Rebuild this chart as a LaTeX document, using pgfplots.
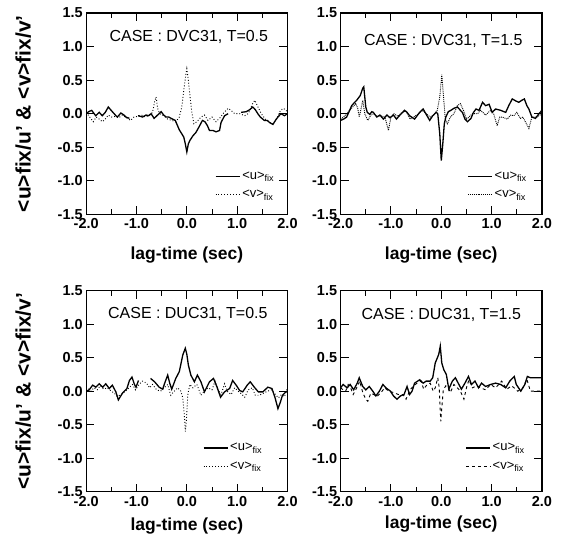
\documentclass[border=0pt]{standalone}
\usepackage{fontspec}
\setmainfont{Liberation Sans}
\usepackage{pgfplots}
\pgfplotsset{compat=1.18}
\usepgfplotslibrary{groupplots}

\pgfplotsset{
  lagplot/.style={
    scale only axis, width=201bp, height=201bp,
    xmin=-2, xmax=2, ymin=-1.5, ymax=1.5,
    xtick={-2,-1,0,1,2}, minor xtick={-1.5,-0.5,0.5,1.5},
    ytick={-1.5,-1,-0.5,0,0.5,1,1.5},
    tick align=inside,
    major tick length=8bp, minor tick length=5bp,
    tick style={black, line width=0.9bp},
    axis line style={line width=1.1bp},
    /pgf/number format/.cd, fixed, fixed zerofill, precision=1, assume math mode=true,
    /pgfplots/.cd,
    ticklabel style={font=\bfseries\fontsize{14.5}{16}\selectfont},
    xticklabel style={inner sep=4bp},
    label style={font=\bfseries\fontsize{17.5}{20}\selectfont},
    unbounded coords=jump,
    legend style={draw=none, fill=none, anchor=south east,
      font=\fontsize{13}{15}\selectfont, row sep=5bp, inner sep=1bp},
    legend cell align=left,
    legend image code/.code={\draw[##1] (0bp,0bp) -- (24bp,0bp);},
  },
  ucurve/.style={black, line width=1.3bp},
  vcurve/.style={black, line width=0.9bp},
}

\begin{document}
\begin{tikzpicture}
\begin{groupplot}[group style={group size=2 by 2, horizontal sep=53bp, vertical sep=76bp}, lagplot]

% top left
\nextgroupplot[
  xlabel={lag-time (sec)}, xlabel style={at={(axis description cs:0.5,-0.204)}, anchor=center},
  ylabel={<u>fix/u' \& <v>fix/v'},
  ylabel style={at={(axis description cs:-0.313,0.5)}, anchor=center, font=\bfseries\fontsize{21}{24}\selectfont},
  legend style={at={(axis description cs:0.95,0.06)}},
]
\addplot[ucurve] coordinates {
(-2.00,0.00) (-1.95,0.03) (-1.89,0.05) (-1.84,0.00) (-1.81,-0.03) (-1.74,0.02) (-1.68,-0.03) (-1.62,0.02) (-1.56,0.10) (-1.48,0.03) (-1.42,-0.02) (-1.38,-0.05) (-1.31,0.01) (-1.25,-0.02) (-1.21,-0.05) (-1.14,-0.07) (-1.10,nan) (-0.97,-0.03) (-0.92,-0.04) (-0.88,-0.05) (-0.81,-0.02) (-0.76,-0.03) (-0.71,0.00) (-0.65,-0.07) (-0.58,-0.02) (-0.51,0.03) (-0.46,-0.02) (-0.41,-0.05) (-0.36,-0.05) (-0.31,-0.07) (-0.23,-0.10) (-0.15,-0.24) (-0.10,-0.30) (-0.06,-0.35) (-0.03,-0.45) (0.00,-0.57) (0.03,-0.45) (0.06,-0.40) (0.12,-0.33) (0.18,-0.28) (0.24,-0.20) (0.31,-0.10) (0.36,-0.12) (0.41,-0.18) (0.45,-0.25) (0.52,-0.25) (0.58,-0.27) (0.65,-0.25) (0.68,-0.13) (0.75,-0.03) (0.82,0.00) (0.86,nan) (1.08,0.02) (1.18,0.03) (1.25,0.06) (1.31,0.10) (1.36,0.06) (1.41,0.00) (1.46,-0.05) (1.54,-0.10) (1.60,-0.10) (1.64,-0.13) (1.71,-0.16) (1.76,-0.10) (1.81,-0.05) (1.87,0.00) (1.94,-0.03) (2.00,0.00)
};
\addlegendentry{<u>\textsubscript{fix}}
\addplot[vcurve, dotted] coordinates {
(-2.00,0.02) (-1.95,-0.03) (-1.90,-0.08) (-1.86,-0.12) (-1.80,-0.05) (-1.74,-0.08) (-1.68,-0.12) (-1.62,-0.08) (-1.56,-0.02) (-1.50,-0.05) (-1.42,-0.04) (-1.35,-0.06) (-1.28,-0.02) (-1.20,-0.06) (-1.12,-0.10) (-1.05,-0.05) (-0.98,-0.04) (-0.90,-0.02) (-0.82,-0.05) (-0.74,-0.02) (-0.68,0.02) (-0.64,0.18) (-0.61,0.25) (-0.58,0.08) (-0.54,0.00) (-0.46,-0.03) (-0.38,-0.08) (-0.30,-0.10) (-0.22,-0.12) (-0.15,-0.05) (-0.10,0.10) (-0.06,0.35) (-0.02,0.58) (0.00,0.67) (0.03,0.50) (0.06,0.28) (0.10,0.02) (0.14,-0.15) (0.20,-0.12) (0.28,-0.05) (0.35,-0.02) (0.42,-0.10) (0.50,-0.05) (0.58,-0.12) (0.66,-0.06) (0.74,0.02) (0.82,0.08) (0.88,0.05) (0.95,0.00) (1.05,0.00) (1.15,-0.03) (1.22,0.00) (1.30,0.14) (1.35,0.20) (1.40,0.12) (1.48,0.00) (1.56,-0.08) (1.64,-0.13) (1.72,-0.15) (1.80,-0.05) (1.86,0.05) (1.92,0.08) (2.00,0.03)
};
\addlegendentry{<v>\textsubscript{fix}}
\node[font=\fontsize{16}{18}\selectfont] at (axis description cs:0.51,0.88) {CASE : DVC31, T=0.5};

% top right
\nextgroupplot[
  xlabel={lag-time (sec)}, xlabel style={at={(axis description cs:0.5,-0.204)}, anchor=center},
  legend style={at={(axis description cs:0.94,0.06)}},
]
\addplot[ucurve] coordinates {
(-2.00,-0.10) (-1.94,-0.08) (-1.88,-0.05) (-1.82,0.05) (-1.78,0.12) (-1.72,0.17) (-1.68,0.20) (-1.61,0.27) (-1.56,0.38) (-1.54,0.40) (-1.50,0.10) (-1.47,0.02) (-1.42,-0.01) (-1.38,0.03) (-1.35,0.02) (-1.28,-0.05) (-1.22,-0.02) (-1.15,-0.08) (-1.08,-0.02) (-1.02,-0.06) (-0.95,-0.02) (-0.89,-0.08) (-0.82,-0.02) (-0.73,0.05) (-0.68,0.02) (-0.63,-0.03) (-0.53,-0.08) (-0.43,0.02) (-0.36,0.07) (-0.30,-0.01) (-0.23,-0.10) (-0.17,-0.03) (-0.10,0.02) (-0.07,0.00) (-0.03,-0.30) (0.00,-0.70) (0.03,-0.45) (0.06,-0.15) (0.09,-0.05) (0.14,0.03) (0.19,0.05) (0.25,0.08) (0.32,0.10) (0.38,0.05) (0.42,0.02) (0.47,-0.08) (0.52,-0.12) (0.59,-0.07) (0.64,0.02) (0.69,0.07) (0.75,0.05) (0.82,0.17) (0.88,0.12) (0.95,0.14) (1.01,0.02) (1.08,0.07) (1.18,0.05) (1.28,0.02) (1.34,0.12) (1.41,0.22) (1.48,0.19) (1.54,0.17) (1.60,0.20) (1.65,0.22) (1.70,0.12) (1.74,0.07) (1.80,-0.05) (1.87,-0.07) (1.94,0.00) (2.00,0.05)
};
\addlegendentry{<u>\textsubscript{fix}}
\addplot[vcurve, densely dotted] coordinates {
(-2.00,-0.08) (-1.94,-0.05) (-1.88,0.00) (-1.82,0.05) (-1.76,0.10) (-1.70,0.15) (-1.66,0.08) (-1.63,-0.05) (-1.60,0.05) (-1.56,0.20) (-1.52,0.00) (-1.46,-0.10) (-1.40,-0.02) (-1.34,0.00) (-1.28,-0.04) (-1.20,-0.03) (-1.12,-0.05) (-1.05,-0.25) (-1.00,-0.05) (-0.94,0.00) (-0.86,-0.04) (-0.78,0.02) (-0.70,0.04) (-0.62,-0.08) (-0.55,-0.05) (-0.45,0.00) (-0.38,0.05) (-0.30,0.00) (-0.22,-0.05) (-0.15,-0.02) (-0.08,0.05) (-0.03,0.25) (0.01,0.58) (0.04,0.30) (0.08,-0.08) (0.12,-0.15) (0.18,-0.05) (0.25,0.00) (0.32,0.12) (0.38,0.15) (0.44,0.05) (0.50,-0.08) (0.55,-0.05) (0.62,0.00) (0.72,0.00) (0.78,0.05) (0.88,-0.02) (0.98,0.05) (1.04,0.00) (1.11,-0.18) (1.16,-0.05) (1.21,-0.05) (1.31,-0.08) (1.38,-0.02) (1.44,-0.03) (1.50,0.02) (1.57,-0.07) (1.62,-0.05) (1.67,-0.12) (1.74,-0.22) (1.80,-0.05) (1.90,-0.05) (2.00,0.00)
};
\addlegendentry{<v>\textsubscript{fix}}
\node[font=\fontsize{16}{18}\selectfont] at (axis description cs:0.51,0.86) {CASE : DVC31, T=1.5};

% bottom left
\nextgroupplot[
  xlabel={lag-time (sec)}, xlabel style={at={(axis description cs:0.5,-0.17)}, anchor=center},
  ylabel={<u>fix/u' \& <v>fix/v'},
  ylabel style={at={(axis description cs:-0.313,0.5)}, anchor=center, font=\bfseries\fontsize{21}{24}\selectfont},
  legend style={at={(axis description cs:0.89,0.09)}},
]
\addplot[ucurve] coordinates {
(-2.00,0.01) (-1.95,0.01) (-1.87,0.09) (-1.81,0.06) (-1.74,0.11) (-1.67,0.06) (-1.61,0.11) (-1.54,0.04) (-1.48,0.09) (-1.41,-0.01) (-1.36,-0.13) (-1.28,-0.03) (-1.19,0.04) (-1.14,0.16) (-1.09,0.21) (-1.04,0.10) (-1.01,0.06) (-0.96,0.16) (-0.93,nan) (-0.72,0.19) (-0.64,0.14) (-0.55,0.06) (-0.48,0.03) (-0.43,0.14) (-0.38,0.24) (-0.34,0.12) (-0.30,0.03) (-0.22,0.19) (-0.15,0.29) (-0.08,0.54) (-0.03,0.64) (0.00,0.55) (0.03,0.39) (0.08,0.24) (0.15,0.14) (0.21,0.24) (0.28,0.14) (0.35,-0.01) (0.45,0.14) (0.53,0.19) (0.60,0.06) (0.67,-0.09) (0.75,-0.01) (0.85,0.04) (0.91,0.16) (0.98,0.09) (1.05,0.01) (1.11,-0.01) (1.20,0.09) (1.26,0.14) (1.34,0.06) (1.42,-0.01) (1.51,-0.01) (1.61,0.06) (1.69,0.04) (1.75,-0.09) (1.81,-0.26) (1.86,-0.16) (1.90,-0.06) (1.97,-0.01) (2.00,0.00)
};
\addlegendentry{<u>\textsubscript{fix}}
\addplot[vcurve, dotted] coordinates {
(-2.00,0.00) (-1.95,0.03) (-1.90,0.00) (-1.85,0.05) (-1.78,0.02) (-1.72,0.08) (-1.65,0.03) (-1.58,0.05) (-1.50,0.00) (-1.44,-0.03) (-1.38,-0.08) (-1.30,-0.05) (-1.22,0.00) (-1.15,0.05) (-1.08,0.10) (-1.02,0.02) (-0.95,0.10) (-0.88,0.15) (-0.80,0.12) (-0.74,0.05) (-0.68,0.10) (-0.60,0.02) (-0.52,0.00) (-0.45,0.05) (-0.38,0.10) (-0.32,-0.06) (-0.25,0.00) (-0.18,0.05) (-0.12,0.00) (-0.08,-0.10) (-0.05,-0.35) (-0.03,-0.60) (-0.01,-0.45) (0.02,-0.05) (0.06,0.10) (0.12,0.05) (0.20,0.10) (0.28,-0.06) (0.35,0.00) (0.42,0.05) (0.50,0.02) (0.56,0.15) (0.62,0.02) (0.68,-0.05) (0.75,0.11) (0.80,0.00) (0.88,-0.05) (0.95,0.05) (1.02,0.00) (1.10,-0.05) (1.15,-0.09) (1.22,0.02) (1.30,0.05) (1.36,-0.06) (1.44,-0.06) (1.52,-0.03) (1.60,0.00) (1.68,0.02) (1.75,-0.04) (1.82,-0.10) (1.88,-0.05) (1.94,-0.08) (2.00,0.05)
};
\addlegendentry{<v>\textsubscript{fix}}
\node[font=\fontsize{16}{18}\selectfont] at (axis description cs:0.505,0.885) {CASE : DUC31, T=0.5};

% bottom right
\nextgroupplot[
  xlabel={lag-time (sec)}, xlabel style={at={(axis description cs:0.5,-0.16)}, anchor=center},
  legend style={at={(axis description cs:0.93,0.09)}},
]
\addplot[ucurve] coordinates {
(-2.00,0.05) (-1.95,0.10) (-1.87,0.05) (-1.81,0.10) (-1.74,0.02) (-1.67,0.12) (-1.63,0.20) (-1.56,0.07) (-1.50,0.02) (-1.43,0.07) (-1.36,0.00) (-1.30,-0.07) (-1.23,0.00) (-1.16,0.10) (-1.10,0.05) (-1.01,0.00) (-0.95,-0.07) (-0.88,-0.12) (-0.81,-0.07) (-0.74,-0.05) (-0.68,0.07) (-0.63,-0.05) (-0.58,0.00) (-0.53,0.12) (-0.43,0.17) (-0.36,0.12) (-0.30,0.15) (-0.22,0.15) (-0.17,0.20) (-0.12,0.42) (-0.05,0.55) (-0.02,0.67) (0.01,0.42) (0.05,0.32) (0.10,0.25) (0.15,0.03) (0.22,0.15) (0.28,0.20) (0.35,0.10) (0.40,0.03) (0.47,0.12) (0.54,0.22) (0.60,0.10) (0.67,0.15) (0.74,0.05) (0.80,0.12) (0.88,0.07) (0.98,0.10) (1.08,0.12) (1.18,0.10) (1.28,0.05) (1.36,0.15) (1.45,0.22) (1.49,0.10) (1.58,0.00) (1.66,0.10) (1.71,0.22) (1.77,0.20) (1.84,0.20) (1.94,0.20) (2.00,0.20)
};
\addlegendentry{<u>\textsubscript{fix}}
\addplot[vcurve, dashed] coordinates {
(-2.00,0.05) (-1.95,0.02) (-1.90,0.00) (-1.85,0.10) (-1.80,0.05) (-1.75,-0.05) (-1.68,0.05) (-1.62,0.15) (-1.56,-0.02) (-1.50,-0.12) (-1.46,-0.15) (-1.40,-0.03) (-1.34,-0.05) (-1.28,-0.08) (-1.20,-0.02) (-1.12,0.05) (-1.05,0.00) (-0.95,-0.02) (-0.85,-0.05) (-0.76,-0.05) (-0.70,-0.12) (-0.62,0.02) (-0.55,0.08) (-0.48,0.12) (-0.40,0.15) (-0.35,0.03) (-0.28,0.10) (-0.22,0.12) (-0.16,0.00) (-0.12,0.05) (-0.07,0.20) (-0.04,0.05) (-0.02,-0.30) (-0.01,-0.45) (0.01,-0.25) (0.04,0.02) (0.09,0.08) (0.14,0.05) (0.18,-0.02) (0.25,0.10) (0.32,0.05) (0.38,0.00) (0.45,-0.12) (0.50,0.05) (0.55,0.17) (0.62,0.05) (0.70,0.08) (0.78,0.05) (0.88,0.02) (0.98,0.10) (1.08,0.05) (1.20,0.15) (1.30,0.03) (1.40,0.08) (1.52,0.00) (1.62,0.05) (1.70,0.18) (1.77,0.00) (1.85,0.00) (1.94,0.00) (2.00,0.00)
};
\addlegendentry{<v>\textsubscript{fix}}
\node[font=\fontsize{16}{18}\selectfont] at (axis description cs:0.5,0.88) {CASE : DUC31, T=1.5};
\end{groupplot}
\pgfresetboundingbox
\path ([shift={(-86bp,13bp)}]group c1r1.north west) rectangle ([shift={(22bp,-57bp)}]group c2r2.south east);
\end{tikzpicture}
\end{document}
